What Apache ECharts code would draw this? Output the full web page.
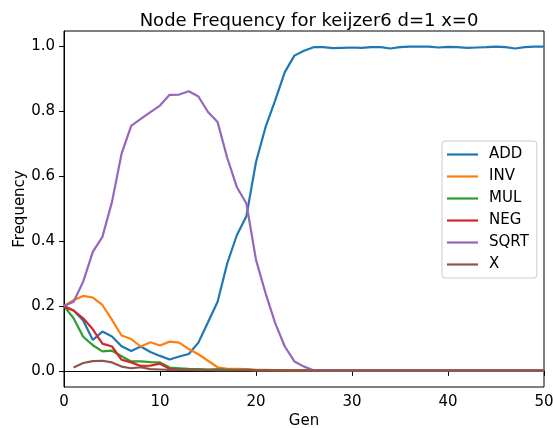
<!DOCTYPE html>
<html>
<head>
<meta charset="utf-8">
<script src="https://cdn.jsdelivr.net/npm/echarts@6/dist/echarts.min.js"></script>
<style>
  html, body { margin: 0; padding: 0; background: #fff; }
  #chart { width: 553px; height: 428px; }
</style>
</head>
<body>
<div id="chart"></div>
<script>
// Node frequency per generation (keijzer6, d=1, x=0)
const gens = Array.from({ length: 51 }, (_, i) => i);

const ADD = [0.2, 0.186, 0.155, 0.095, 0.121, 0.106, 0.076, 0.061, 0.075, 0.058,
  0.046, 0.035, 0.044, 0.052, 0.087, 0.15, 0.213, 0.331, 0.418, 0.477,
  0.644, 0.752, 0.834, 0.921, 0.972, 0.987, 0.998, 0.998, 0.995, 0.996,
  0.997, 0.996, 0.998, 0.998, 0.994, 0.998, 1.0, 1.0, 1.0, 0.997,
  0.999, 0.998, 0.996, 0.997, 0.998, 1.0, 0.998, 0.994, 0.998, 1.0, 1.0];

const INV = [0.2, 0.218, 0.231, 0.226, 0.203, 0.157, 0.109, 0.098, 0.075, 0.088,
  0.078, 0.09, 0.087, 0.067, 0.051, 0.031, 0.011, 0.006, 0.006, 0.005,
  0.003, 0.003, 0.002, 0.002, 0.001, 0.002, 0.001, 0.001, 0.001, 0.001,
  0.001, 0.001, 0.001, 0.001, 0.001, 0.001, 0.001, 0.001, 0.001, 0.001,
  0.001, 0.001, 0.001, 0.001, 0.001, 0.001, 0.001, 0.001, 0.001, 0.001, 0.001];

const MUL = [0.2, 0.162, 0.105, 0.079, 0.06, 0.062, 0.045, 0.029, 0.029, 0.027,
  0.026, 0.01, 0.008, 0.006, 0.005, 0.004, 0.005, 0.004, 0.003, 0.004,
  0.002, 0.002, 0.002, 0.001, 0.001, 0.001, 0.001, 0.001, 0.001, 0.001,
  0.001, 0.001, 0.001, 0.001, 0.001, 0.001, 0.001, 0.001, 0.001, 0.001,
  0.001, 0.001, 0.001, 0.001, 0.001, 0.001, 0.001, 0.001, 0.001, 0.001, 0.001];

const NEG = [0.198, 0.186, 0.162, 0.128, 0.084, 0.075, 0.034, 0.026, 0.015, 0.016,
  0.022, 0.006, 0.004, 0.003, 0.003, 0.003, 0.002, 0.002, 0.002, 0.002,
  0.001, 0.001, 0.001, 0.001, 0.001, 0.001, 0.001, 0.001, 0.001, 0.001,
  0.001, 0.001, 0.001, 0.001, 0.001, 0.001, 0.001, 0.001, 0.001, 0.001,
  0.001, 0.001, 0.001, 0.001, 0.001, 0.001, 0.001, 0.001, 0.001, 0.001, 0.001];

const SQRT = [0.2, 0.213, 0.275, 0.367, 0.413, 0.521, 0.67, 0.755, 0.777, 0.798,
  0.818, 0.851, 0.852, 0.862, 0.846, 0.798, 0.767, 0.657, 0.567, 0.516,
  0.342, 0.239, 0.147, 0.075, 0.029, 0.013, 0.002, 0.001, 0.001, 0.001,
  0.001, 0.001, 0.001, 0.001, 0.001, 0.001, 0.001, 0.001, 0.001, 0.001,
  0.001, 0.001, 0.001, 0.001, 0.001, 0.001, 0.001, 0.001, 0.001, 0.001, 0.001];

const X = [null, 0.01, 0.024, 0.03, 0.031, 0.026, 0.013, 0.008, 0.011, 0.005,
  0.004, 0.003, 0.003, 0.003, 0.002, 0.002, 0.002, 0.002, 0.002, 0.002,
  0.001, 0.001, 0.001, 0.001, 0.001, 0.001, 0.001, 0.001, 0.001, 0.001,
  0.001, 0.001, 0.001, 0.001, 0.001, 0.001, 0.001, 0.001, 0.001, 0.001,
  0.001, 0.001, 0.001, 0.001, 0.001, 0.001, 0.001, 0.001, 0.001, 0.001, 0.001];

const seriesNames = ['ADD', 'INV', 'MUL', 'NEG', 'SQRT', 'X'];
const seriesValues = [ADD, INV, MUL, NEG, SQRT, X];
const colors = ['#1f77b4', '#ff7f0e', '#2ca02c', '#d62728', '#9467bd', '#8c564b'];
const yTicks = [0, 0.2, 0.4, 0.6, 0.8, 1.0];

const font = 'DejaVu Sans';
const fs = 15;
const chart = echarts.init(document.getElementById('chart'), null, { renderer: 'canvas' });

chart.setOption({
  animation: false,
  backgroundColor: '#fff',
  title: {
    text: 'Node Frequency for keijzer6 d=1 x=0',
    left: 304, top: 7, textAlign: 'center',
    textStyle: { fontFamily: font, fontSize: 18, fontWeight: 'normal', color: '#000' }
  },
  grid: {
    left: 64, right: 9, top: 31, bottom: 41,
    containLabel: false, outerBoundsMode: 'none',
    show: true, borderColor: '#000', borderWidth: 1, backgroundColor: 'transparent'
  },
  legend: {
    orient: 'vertical', left: 442, top: 141,
    padding: [6, 8, 6, 5],
    itemWidth: 31, itemHeight: 15, itemGap: 7,
    borderColor: '#cccccc', borderWidth: 1, borderRadius: 3,
    backgroundColor: 'rgba(255,255,255,0.8)',
    textStyle: { fontFamily: font, fontSize: fs, color: '#000', padding: [0, 0, 0, 6] },
    data: seriesNames.map(n => ({ name: n, icon: 'path://M0,0 L31,0 L31,2.2 L0,2.2 Z' }))
  },
  xAxis: {
    type: 'value', min: 0, max: 50, interval: 10,
    name: 'Gen', nameLocation: 'middle', nameGap: 27, nameMoveOverlap: false,
    nameTextStyle: { fontFamily: font, fontSize: fs, color: '#000' },
    axisLine: { show: true, lineStyle: { color: '#000', width: 1 } },
    axisTick: { show: true, length: 5, lineStyle: { color: '#000' } },
    axisLabel: { fontFamily: font, fontSize: fs, color: '#000', margin: 8 },
    splitLine: { show: false }
  },
  yAxis: {
    type: 'value', min: -0.0499, max: 1.0479,
    name: 'Frequency', nameLocation: 'middle', nameGap: 36, nameMoveOverlap: false,
    nameTextStyle: { fontFamily: font, fontSize: fs, color: '#000' },
    axisLine: { show: true, lineStyle: { color: '#000', width: 1 } },
    axisTick: { show: true, length: 5, customValues: yTicks, lineStyle: { color: '#000' } },
    axisLabel: {
      fontFamily: font, fontSize: fs, color: '#000', margin: 9,
      customValues: yTicks, formatter: v => v.toFixed(1)
    },
    splitLine: { show: false }
  },
  series: seriesNames.map((name, i) => ({
    name, type: 'line', symbol: 'none',
    data: gens.map(g => [g, seriesValues[i][g]]),
    lineStyle: { color: colors[i], width: 2.2 },
    itemStyle: { color: colors[i] },
    connectNulls: false
  }))
});
</script>
</body>
</html>
